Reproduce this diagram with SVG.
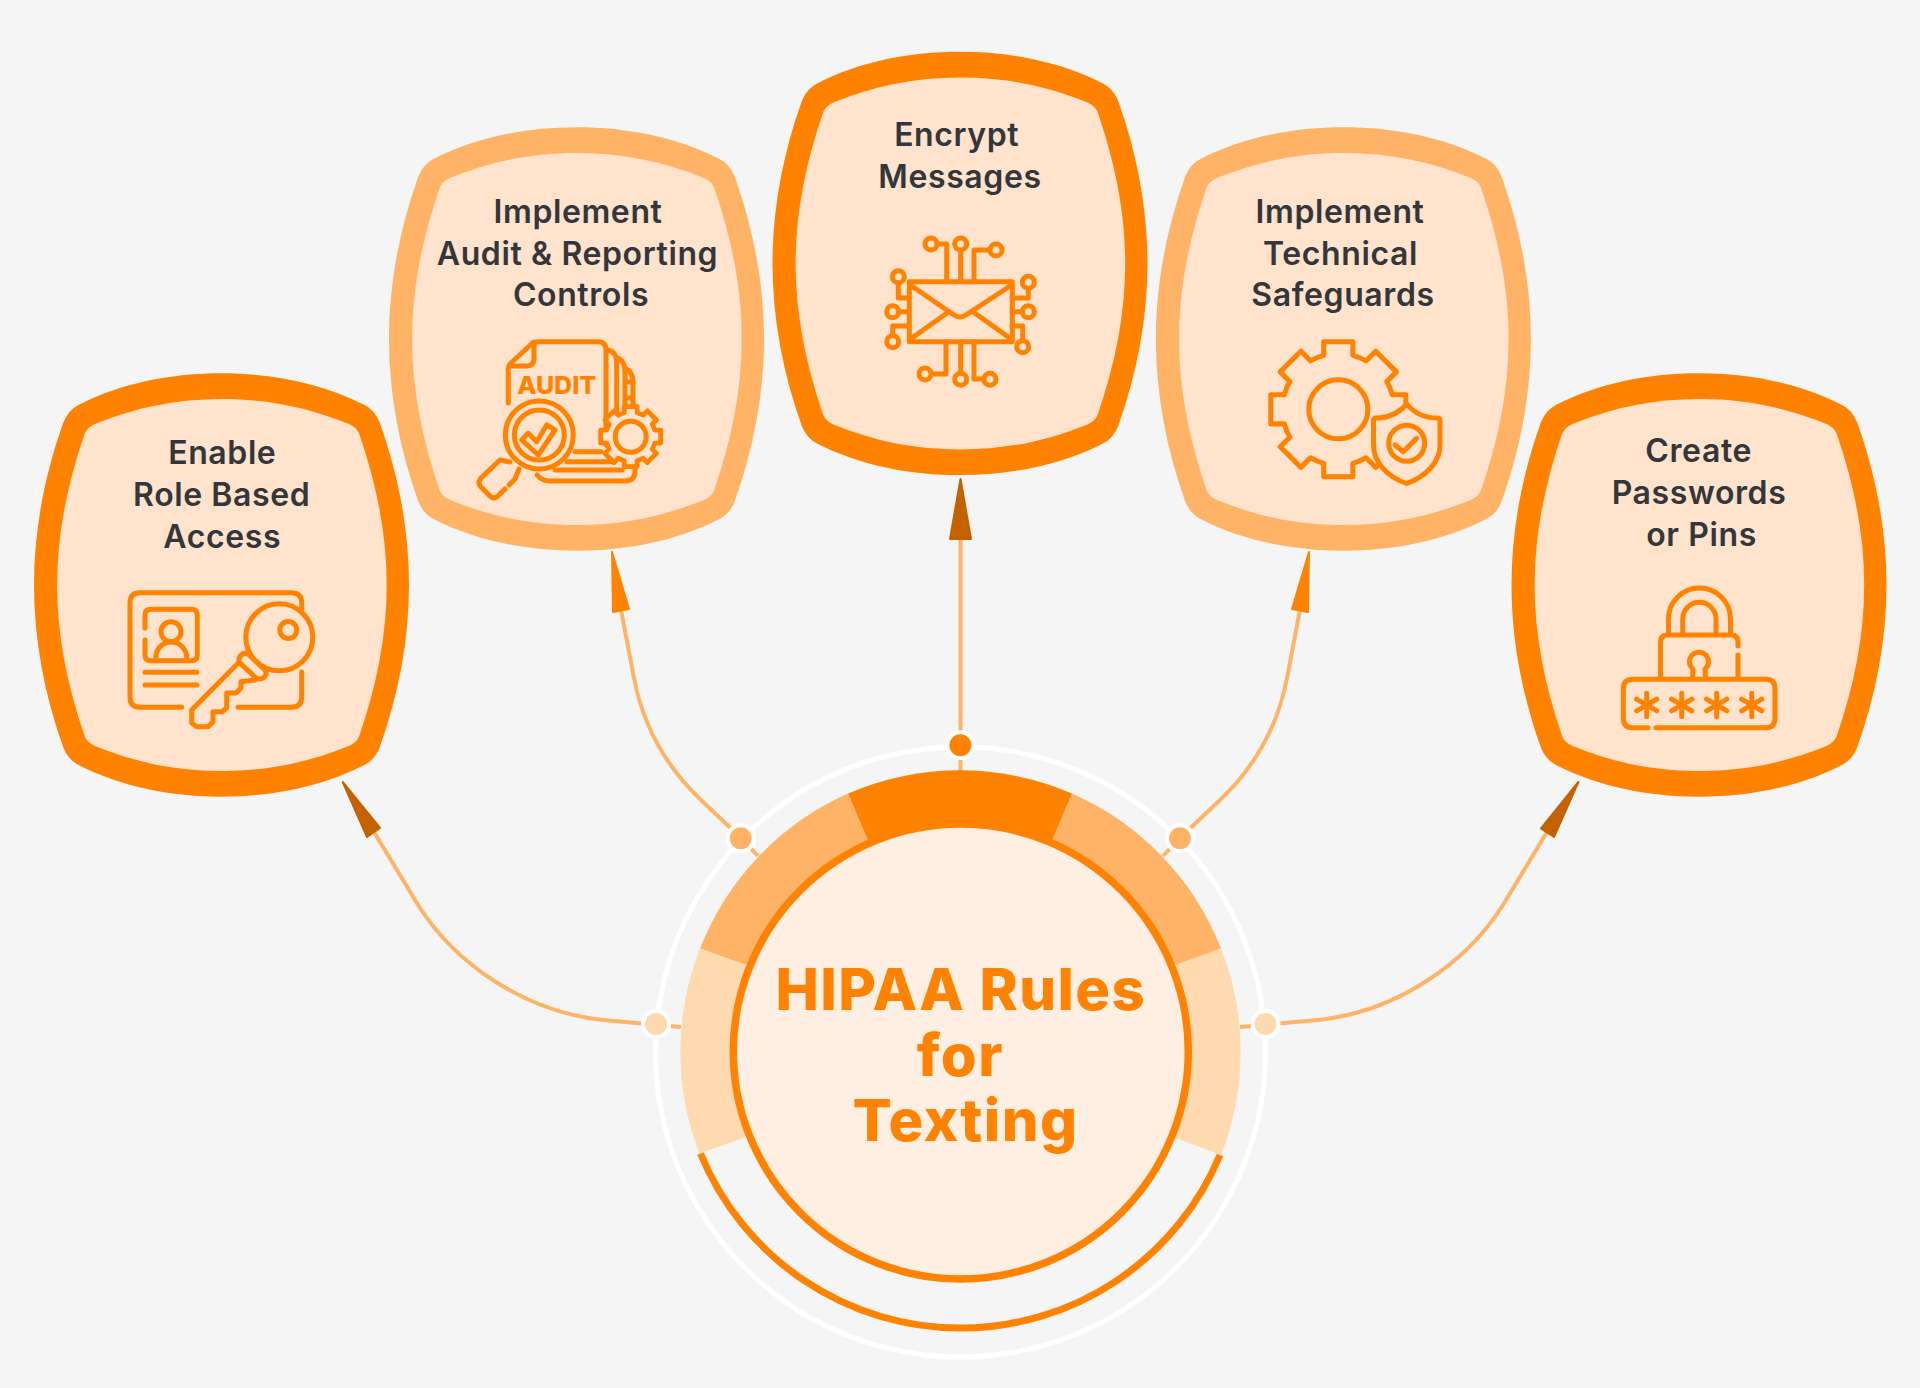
<svg xmlns="http://www.w3.org/2000/svg" xmlns:xlink="http://www.w3.org/1999/xlink" width="1920" height="1388" viewBox="0 0 1920 1388">
<style>
.outer{fill:#FF8200}
.outer.soft{fill:#FFB366}
.inner{fill:#FFE3CC}
.lbl{font-family:"Inter","Liberation Sans",sans-serif;font-weight:600;font-size:32px;letter-spacing:.6px;fill:#33363A;text-anchor:middle}
.title{font-family:"Inter","Liberation Sans",sans-serif;font-weight:800;font-size:58px;letter-spacing:1.4px;fill:#FF8200;text-anchor:middle}
.ic{fill:none;stroke:#FF8200;stroke-width:5;stroke-linecap:round;stroke-linejoin:round}
.icf{fill:#FFE3CC;stroke:#FF8200;stroke-width:5;stroke-linecap:round;stroke-linejoin:round}
.link{fill:none;stroke:#FFB366;stroke-width:4}
.dark{fill:#C46200;stroke:#C46200;stroke-width:2;stroke-linejoin:round}
.bright{fill:#FF8200;stroke:#FF8200;stroke-width:2;stroke-linejoin:round}
.dot{stroke:#FFFFFF;stroke-width:4}
</style>
<defs>
<path id="shape-o" d="M-143-180C-100-202-50-211.7 0-211.7S100-202 143-180Q153-175 158-163C177-110 187.5-55 187.5 0S177 110 158 163Q153 175 143 180C100 202 50 211.7 0 211.7S-100 202-143 180Q-153 175-158 163C-177 110-187.5 55-187.5 0S-177-110-158-163Q-153-175-143-180Z"/>
<path id="shape-i" d="M-127-161C-85-178-45-186 0-186S85-178 127-161Q134-158 137-152C155-100 164.8-50 164.8 0S155 100 137 152Q134 158 127 161C85 178 45 186 0 186S-85 178-127 161Q-134 158-137 152C-155 100-164.8 50-164.8 0S-155-100-137-152Q-134-158-127-161Z"/>
<path id="gear" d="M-27-100L-27-125L27-125L27-100A103.6 103.6 0 0 1 51.6-89.8L69.3-107.5L107.5-69.3L89.8-51.6A103.6 103.6 0 0 1 100-27L125-27L125 27L100 27A103.6 103.6 0 0 1 89.8 51.6L107.5 69.3L69.3 107.5L51.6 89.8A103.6 103.6 0 0 1 27 100L27 125L-27 125L-27 100A103.6 103.6 0 0 1-51.6 89.8L-69.3 107.5L-107.5 69.3L-89.8 51.6A103.6 103.6 0 0 1-100 27L-125 27L-125-27L-100-27A103.6 103.6 0 0 1-89.8-51.6L-107.5-69.3L-69.3-107.5L-51.6-89.8A103.6 103.6 0 0 1-27-100Z"/>
<path id="star" d="M0-11.7V11.7M-10.1-5.8L10.1 5.8M-10.1 5.8L10.1-5.8"/>
</defs>
<rect width="1920" height="1388" fill="#F5F5F5"/>

<g id="connectors">
<path class="link" d="M960.5 775V540"/>
<path class="link" d="M758 856L741 838L701 800C659 760 641 715 634 678L621 610"/>
<path class="link" d="M1163 856L1180 838L1220 800C1262 760 1280 715 1287 678L1300 610"/>
<path class="link" d="M681 1027L603 1020C526 1012 456 965 418 905L374 832"/>
<path class="link" d="M1240 1027L1318 1020C1395 1012 1465 965 1503 905L1547 832"/>
<polygon class="dark" points="960.5,479 950,539 971,539"/>
<polygon class="bright" points="612,552 613,612 629,609"/>
<polygon class="bright" points="1309,552 1292,609 1308,612"/>
<polygon class="dark" points="342.7,782 367,837 380,828"/>
<polygon class="dark" points="1578.4,782 1541,828.5 1554,837"/>
</g>

<g id="center">
<circle cx="960.5" cy="1052" r="305" fill="none" stroke="#FFFFFF" stroke-width="5"/>
<path d="M1220 1155A281 281 0 0 1 700.5 1153.5" fill="none" stroke="#FF8200" stroke-width="7"/>
<path d="M848 793.6A281.6 281.6 0 0 1 1072 793.6L1052 842H868Z" fill="#FF8200"/>
<path d="M1072 793.6A281.6 281.6 0 0 1 1221 948.5L1176 965L1052 840Z" fill="#FFB366"/>
<path d="M848 793.6A281.6 281.6 0 0 0 700 948.5L745.7 965L868 840Z" fill="#FFB366"/>
<path d="M1221 948.5A281.6 281.6 0 0 1 1221 1155L1176 1138L1176 965Z" fill="#FFD9B0"/>
<path d="M700 948.5A281.6 281.6 0 0 0 699.4 1153.5L744.5 1137.5L745.7 965Z" fill="#FFD9B0"/>
<circle cx="960.8" cy="1051.5" r="227.5" fill="#FFEFE2" stroke="#FF8200" stroke-width="7.5"/>
<circle class="dot" cx="960.4" cy="745.2" r="13" fill="#FF8200"/>
<circle class="dot" cx="740.7" cy="838.3" r="13" fill="#FFB366"/>
<circle class="dot" cx="1180" cy="838.3" r="13" fill="#FFB366"/>
<circle class="dot" cx="656" cy="1024" r="13" fill="#FFD9B0"/>
<circle class="dot" cx="1265.5" cy="1024" r="13" fill="#FFD9B0"/>
<text class="title" x="960.8" y="1010.4">HIPAA Rules</text>
<text class="title" x="960.3" y="1075.6">for</text>
<text class="title" x="965.4" y="1141">Texting</text>
</g>

<g id="node-role">
<use href="#shape-o" class="outer" x="221.5" y="585"/>
<use href="#shape-i" class="inner" x="221.9" y="585"/>
<text class="lbl" x="222.3" y="464.3">Enable</text>
<text class="lbl" x="221.7" y="506">Role Based</text>
<text class="lbl" x="222.2" y="547.7">Access</text>
<path class="ic" d="M181.7 707.3H140Q130 707.3 130 697V603Q130 592.7 140 592.7H291Q301.7 592.7 301.7 603V610M301.7 672V697Q301.7 707.3 291 707.3H238"/>
<path class="ic" d="M145 628V615Q145 609.3 151 609.3H191.3Q197.3 609.3 197.3 615V655Q197.3 660.7 191.3 660.7H151Q145 660.7 145 655V640"/>
<circle class="ic" cx="171" cy="631.7" r="10"/>
<path class="ic" d="M155.5 660C155.5 648 163 642 171 642C179 642 187 648 187 660"/>
<path class="ic" d="M145 672.3H197M145 685H197"/>
<circle class="icf" cx="279.3" cy="637.3" r="33.5"/>
<circle class="ic" cx="288.3" cy="630" r="8.5"/>
<path class="ic" d="M240 656.5Q243 652 248 654L265 670Q268 675 263 678Q260 680 256 678L240 663Q238 660 240 656.5Z"/>
<path class="ic" d="M238.3 663L191.7 710V723L196.7 726.7H208L213 721.7V711.7H222L226.7 708V693H236L241 688V681.7L255 680"/>
</g>

<g id="node-audit">
<use href="#shape-o" class="outer soft" x="576.5" y="339"/>
<use href="#shape-i" class="inner" x="576.9" y="339"/>
<text class="lbl" x="578" y="222.5">Implement</text>
<text class="lbl" x="577.5" y="264.5">Audit &amp; Reporting</text>
<text class="lbl" x="581" y="306.3">Controls</text>
<path class="ic" d="M508.3 403V368Q508.3 366 510 364L533 342.5Q536 341.7 540 341.7H598Q606 341.7 606 350V445M575 451.7H601"/>
<path class="ic" d="M534 343V358Q534 366 526 366H510"/>
<path class="ic" d="M608 350Q616.7 352 616.7 362V412M618 358Q625 362 625 372V410M625 368Q633 372 633 382V412M625 382H633M625 398H633"/>
<path class="ic" d="M567 461.7H613M555 470H622M537 475Q542 481 550 481H625Q635 481 635 471V462"/>
<circle class="icf" cx="539.3" cy="435" r="34"/>
<circle class="ic" cx="539.3" cy="435" r="25" stroke-width="4"/>
<path class="ic" stroke-width="4" d="M521.7 440L528.3 433.3L536.7 441.7L546.7 425L555 430L538.3 455Z"/>
<path class="ic" d="M510 462L500 460L481 478Q477 483 481 487L490 496Q494 500 498 496L505 489M509 485L515 479L519 469"/>
<use href="#gear" class="icf" transform="translate(630.7 436.7) scale(.24)" style="stroke-width:20"/>
<circle class="ic" cx="630.7" cy="436.7" r="15.5"/>
<text x="556.7" y="394.3" font-family="Inter,'Liberation Sans',sans-serif" font-weight="800" font-size="25" text-anchor="middle" fill="#FF8200">AUDIT</text>
</g>

<g id="node-encrypt">
<use href="#shape-o" class="outer" x="960" y="263.4"/>
<use href="#shape-i" class="inner" x="960.4" y="263.4"/>
<text class="lbl" x="956.7" y="146">Encrypt</text>
<text class="lbl" x="960" y="187.5">Messages</text>
<path class="ic" stroke-linecap="butt" d="M909.3 281.7H1012.3V341.7H909.3ZM911.7 286L954 315Q960 319 966 315L1010 286M911.7 338.3L946.7 313.3M1010 338.3L975 313.3"/>
<path class="ic" d="M938 244H946.7V281.7M960.7 251V281.7M989 250H974V281.7M898.3 284V298H909M900 311.7H909M892.7 334V326H909M1028.3 290V298H1012M1021 311.7H1012M1022.7 339V326H1012M933 374H946V341.7M960.7 372V341.7M982 379H974V341.7"/>
<g class="ic">
<circle cx="931" cy="244" r="6"/><circle cx="960.7" cy="244" r="6"/><circle cx="996" cy="250" r="6"/>
<circle cx="898.3" cy="276.7" r="6"/><circle cx="892.7" cy="311.7" r="6"/><circle cx="892.7" cy="341.7" r="6"/>
<circle cx="1028.3" cy="282.3" r="6"/><circle cx="1028.3" cy="311.7" r="6"/><circle cx="1022.7" cy="346.7" r="6"/>
<circle cx="925" cy="374" r="6"/><circle cx="960.7" cy="379.3" r="6"/><circle cx="990" cy="379.3" r="6"/>
</g>
</g>

<g id="node-technical">
<use href="#shape-o" class="outer soft" x="1343.4" y="339"/>
<use href="#shape-i" class="inner" x="1343.8" y="339"/>
<text class="lbl" x="1340" y="222.5">Implement</text>
<text class="lbl" x="1340.5" y="264.5">Technical</text>
<text class="lbl" x="1343" y="306.3">Safeguards</text>
<use href="#gear" class="icf" transform="translate(1338.3 409.3) scale(.54)" style="stroke-width:9.3"/>
<circle class="ic" cx="1338.3" cy="409.3" r="29.5"/>
<path class="icf" d="M1406.7 404C1398 414 1387 418 1376 418Q1373.5 418 1373.5 421V445C1373.5 463 1388 477 1406.7 483.5C1425 477 1440 463 1440 445V421Q1440 418 1437 418C1426 418 1415 414 1406.7 404Z"/>
<circle class="ic" cx="1406.7" cy="443.3" r="18"/>
<path class="ic" d="M1395 445L1403.3 451.7L1416.7 438.3"/>
</g>

<g id="node-passwords">
<use href="#shape-o" class="outer" x="1699" y="585"/>
<use href="#shape-i" class="inner" x="1699.4" y="585"/>
<text class="lbl" x="1698.7" y="462">Create</text>
<text class="lbl" x="1699" y="504">Passwords</text>
<text class="lbl" x="1701.5" y="546">or Pins</text>
<path class="ic" d="M1668.5 633V619A31 31 0 0 1 1730.5 619V633M1682.7 633V619A16.6 16.6 0 0 1 1716 619V633"/>
<path class="ic" d="M1660.5 678V642Q1660.5 635 1667.5 635H1731Q1738 635 1738 642V646M1738 655V678"/>
<path class="ic" d="M1692.5 678L1693 669A9.5 9.5 0 1 1 1705 669L1705.5 678"/>
<path class="ic" d="M1648 727.7H1632Q1623.3 727.7 1623.3 718V689Q1623.3 679.3 1633 679.3H1766Q1775 679.3 1775 689V718Q1775 727.7 1766 727.7H1656"/>
<use href="#star" class="ic" x="1646.7" y="705"/>
<use href="#star" class="ic" x="1681.7" y="705"/>
<use href="#star" class="ic" x="1716.7" y="705"/>
<use href="#star" class="ic" x="1751.7" y="705"/>
</g>
</svg>
